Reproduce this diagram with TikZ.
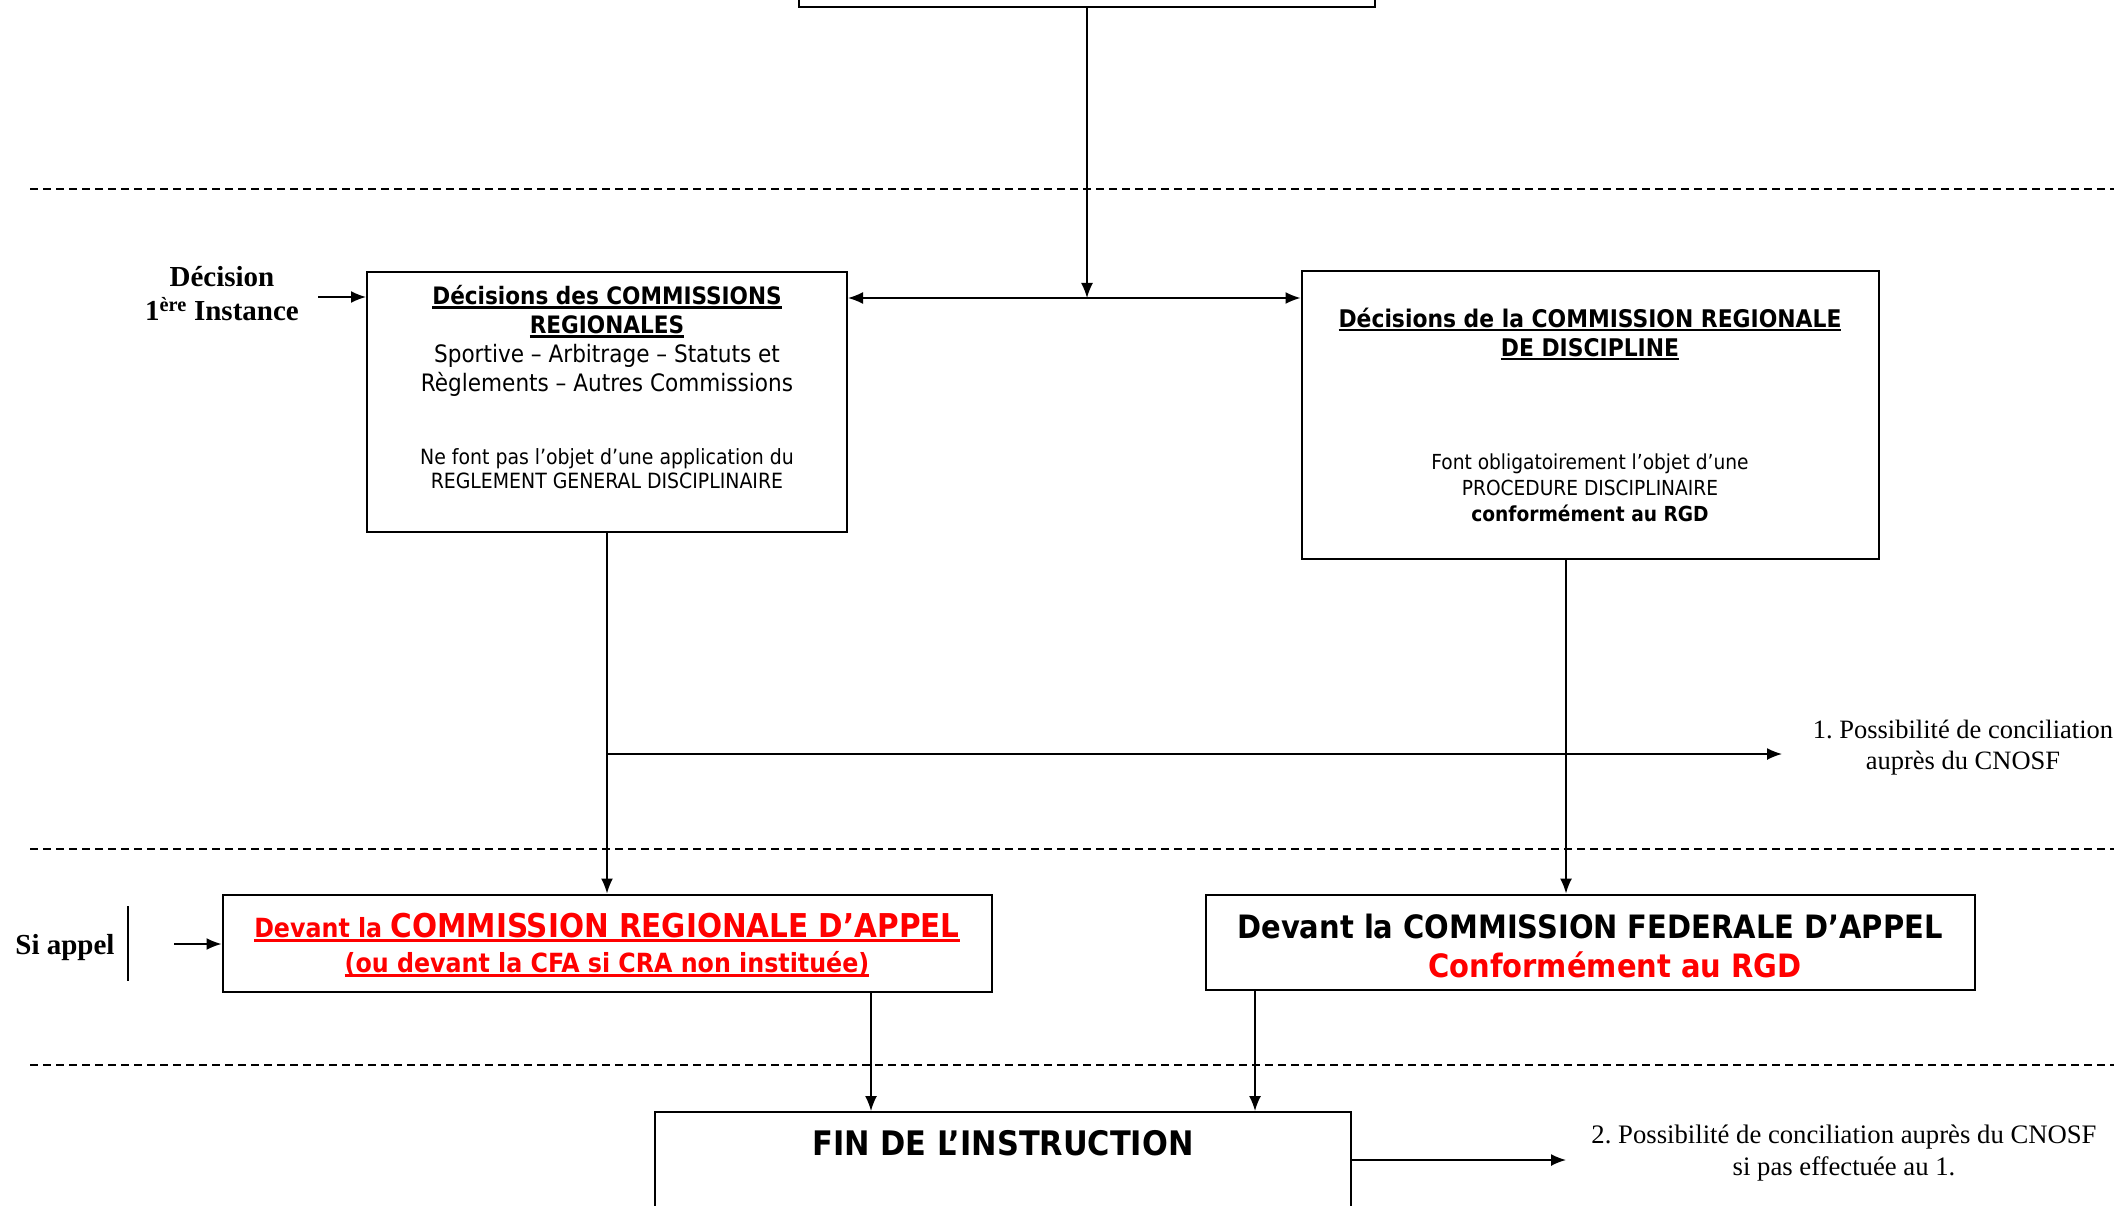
\documentclass[tikz,border=0pt]{standalone}
\usepackage{fontspec}
\setmainfont{Liberation Serif}
\newfontfamily\boxfont{DejaVu Sans Condensed}
\usetikzlibrary{arrows.meta}
\definecolor{appelred}{RGB}{255,0,0}
\newcommand{\uln}[1]{\setbox0\hbox{#1}\rlap{\rule[-4pt]{\wd0}{2.2pt}}\box0}
\newcommand{\fsz}[2]{\fontsize{#1}{#2}\selectfont}
\tikzset{
  box/.style={draw, line width=2pt, inner sep=0pt},
  link/.style={line width=1.6pt},
  arr/.style={link, -{Latex[length=15pt,width=12pt]}},
  sep/.style={line width=1.5pt, dash pattern=on 8pt off 5pt},
  boxtxt/.style={align=center, font=\boxfont},
  sidetxt/.style={align=center},
}
\begin{document}
\begin{tikzpicture}[x=1pt,y=-1pt]
  \useasboundingbox (0,0) rectangle (2114,1206);
  \clip (0,0) rectangle (2114,1206);

  % separators
  \draw[sep] (30,189) -- (2114,189);
  \draw[sep] (30,849) -- (2114,849);
  \draw[sep] (30,1065) -- (2114,1065);

  % boxes
  \node[box, minimum width=576pt, minimum height=80pt] (top) at (1087,-33) {};
  \node[box, minimum width=480pt, minimum height=260pt] (crdec) at (607,402) {};
  \node[box, minimum width=577pt, minimum height=287pt] (crd) at (1590,415) {};
  \node[box, minimum width=769pt, minimum height=97pt] (cra) at (607,943) {};
  \node[box, minimum width=769pt, minimum height=95pt] (cfa) at (1590,942) {};
  \node[box, minimum width=696pt, minimum height=200pt] (fin) at (1003,1212) {};

  % box texts
  \node[boxtxt, font=\boxfont\fsz{24}{29}] (crdecA) at (607,341)
    {\textbf{\uln{Décisions des COMMISSIONS}}\\
     \textbf{\uln{REGIONALES}}\\
     Sportive – Arbitrage – Statuts et\\
     Règlements – Autres Commissions};
  \node[boxtxt, font=\boxfont\fsz{21}{24}] (crdecB) at (607,469)
    {Ne font pas l’objet d’une application du\\
     REGLEMENT GENERAL DISCIPLINAIRE};
  \node[boxtxt, font=\boxfont\fsz{24.3}{29}] (crdA) at (1590,334)
    {\textbf{\uln{Décisions de la COMMISSION REGIONALE}}\\
     \textbf{\uln{DE DISCIPLINE}}};
  \node[boxtxt, font=\boxfont\fsz{20.7}{26}] (crdB) at (1590,488)
    {Font obligatoirement l’objet d’une\\
     PROCEDURE DISCIPLINAIRE\\
     \textbf{conformément au RGD}};
  \node[boxtxt, text=appelred, font=\boxfont\bfseries\fsz{26.4}{35}] (craT) at (607,945)
    {\uln{Devant la \fsz{32.8}{35}COMMISSION REGIONALE D’APPEL}\\
     \uln{(ou devant la CFA si CRA non instituée)}};
  \node[boxtxt, font=\boxfont\bfseries\fsz{32.2}{39}] (cfaT) at (1590,946)
    {Devant la COMMISSION FEDERALE D’APPEL\\
     \hspace*{50pt}\textcolor{appelred}{Conformément au RGD}};
  \node[boxtxt, font=\boxfont\bfseries\fsz{33.8}{39}] (finT) at (1003,1143)
    {FIN DE L’INSTRUCTION};

  % side texts
  \node[sidetxt, font=\bfseries\fsz{29}{34}] (decision) at (222,294)
    {Décision\\ 1\textsuperscript{ère} Instance};
  \node[sidetxt, font=\bfseries\fsz{29}{34}] (siappel) at (65,948) {Si appel};
  \node[sidetxt, font=\fsz{26.5}{31}] (concil1) at (1963,748)
    {1.\ Possibilité de conciliation\\ auprès du CNOSF};
  \node[sidetxt, font=\fsz{26.7}{32}] (concil2) at (1844,1153)
    {2.\ Possibilité de conciliation auprès du CNOSF\\ si pas effectuée au 1.};

  % helper points
  \coordinate (junc) at (1087,298);
  \coordinate (rx) at (1566,0);
  \coordinate (c1) at (607,754);
  \coordinate (c1end) at (1782,754);
  \coordinate (c2end) at (1566,1160);
  \coordinate (decl) at (318,297);
  \coordinate (sibar1) at (128,906);
  \coordinate (sibar2) at (128,981);
  \coordinate (sia) at (174,944);
  \coordinate (ra) at (871,0);
  \coordinate (rb) at (1255,0);

  % connectors
  \draw[arr] (top.south) to (junc);
  \draw[arr] (junc) to (junc -| crdec.east);
  \draw[arr] (junc) to (junc -| crd.west);
  \draw[arr] (decl) to (decl -| crdec.west);
  \draw[arr] (crdec.south) to (cra.north);
  \draw[arr] (c1) to (c1end);
  \draw[arr] (crd.south -| rx) to (cfa.north -| rx);
  \draw[link] (sibar1) to (sibar2);
  \draw[arr] (sia) to (sia -| cra.west);
  \draw[arr] (cra.south -| ra) to (fin.north -| ra);
  \draw[arr] (cfa.south -| rb) to (fin.north -| rb);
  \draw[arr] (fin.east |- c2end) to (c2end);
\end{tikzpicture}
\end{document}
